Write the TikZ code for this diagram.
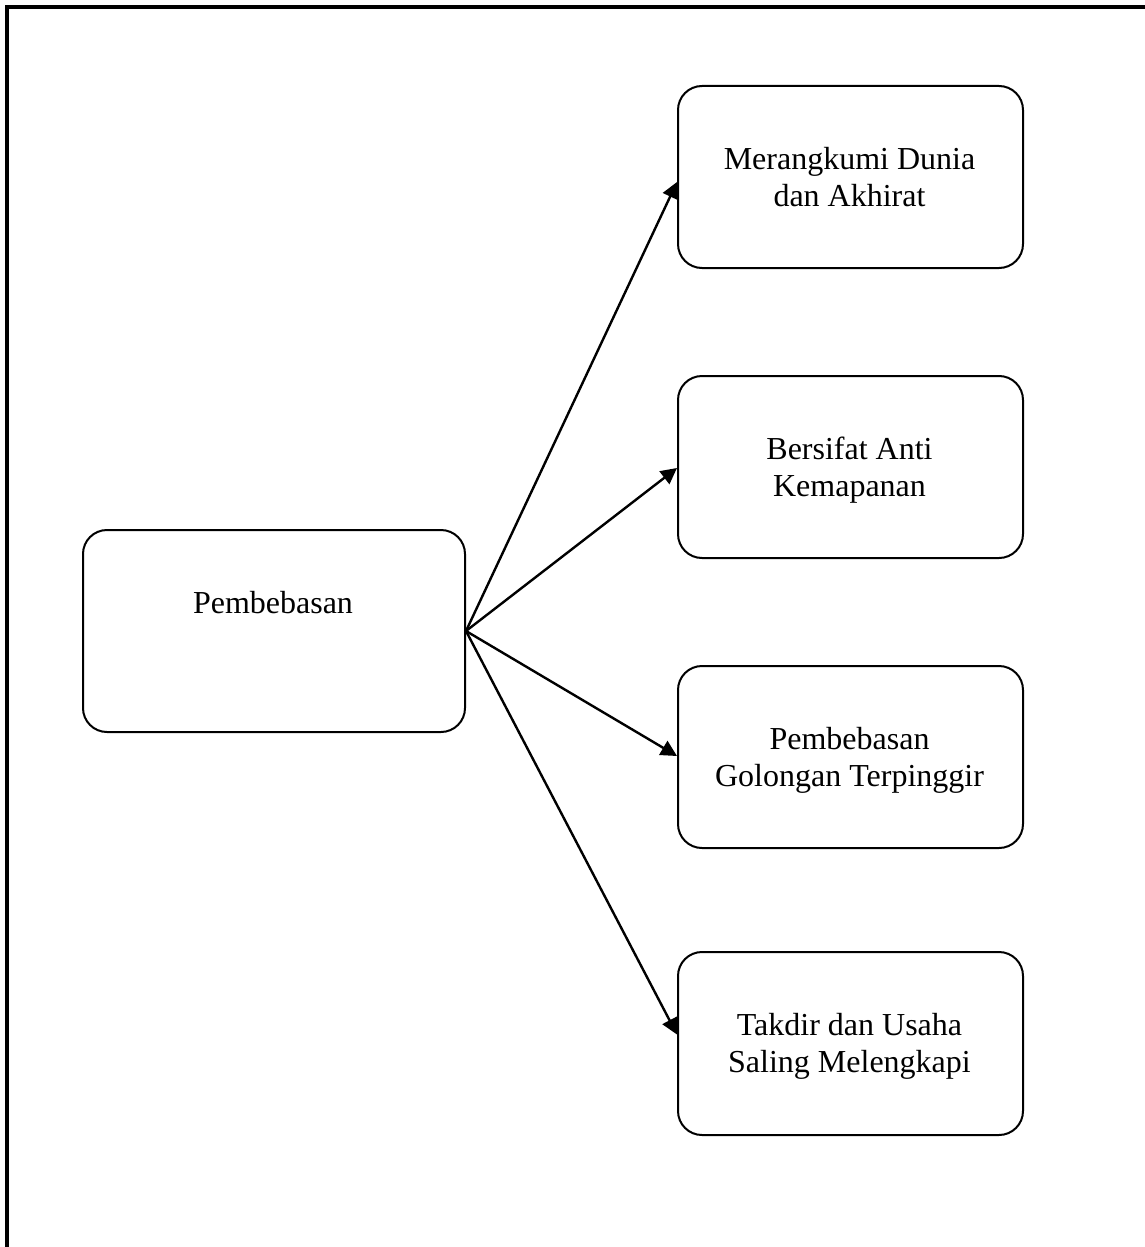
\documentclass[tikz,border=0pt]{standalone}
\usepackage{fontspec}
\setmainfont{Liberation Serif}
\usetikzlibrary{arrows.meta,positioning}
\begin{document}
\begin{tikzpicture}[x=0.5pt,y=-0.5pt,
  box/.style={draw=black,line width=1pt,rounded corners=12pt,inner sep=0pt,anchor=north west},
  txt/.style={font=\fontsize{16}{18.5}\selectfont,align=center,inner sep=0pt,anchor=base},
  conn/.style={line width=1.2pt,-{Triangle[length=8pt,width=8pt]}}]
\useasboundingbox (0,0) rectangle (1145,1247);
\begin{scope}
\clip (0,0) rectangle (1145,1247);
\draw[line width=1.6pt] (7,1260) -- (7,7) -- (1160,7);
\end{scope}
% central box
\node[box,minimum width=191pt,minimum height=101pt] (c) at (82,529) {};
\node[txt] (ct) at (273,613) {Pembebasan};
% right boxes
\node[box,minimum width=172.5pt,minimum height=91pt] (b1) at (677,85) {};
\node[box,minimum width=172.5pt,minimum height=91pt] (b2) at (677,375) {};
\node[box,minimum width=172.5pt,minimum height=91pt] (b3) at (677,665) {};
\node[box,minimum width=172.5pt,minimum height=91.5pt] (b4) at (677,951) {};
\node[txt] (t1) at (849.5,206) {Merangkumi Dunia\\dan Akhirat};
\node[txt] (t2) at (849.5,496) {Bersifat Anti\\Kemapanan};
\node[txt] (t3) at (849.5,786) {Pembebasan\\Golongan Terpinggir};
\node[txt] (t4) at (849.5,1072) {Takdir dan Usaha\\Saling Melengkapi};
% connectors
\draw[conn] (c.east) -- ([yshift=-2.5pt]b1.west);
\draw[conn] (c.east) -- ([yshift=-0.5pt]b2.west);
\draw[conn] (c.east) -- ([yshift=0.5pt]b3.west);
\draw[conn] (c.east) -- ([yshift=4.5pt]b4.west);
\end{tikzpicture}
\end{document}
